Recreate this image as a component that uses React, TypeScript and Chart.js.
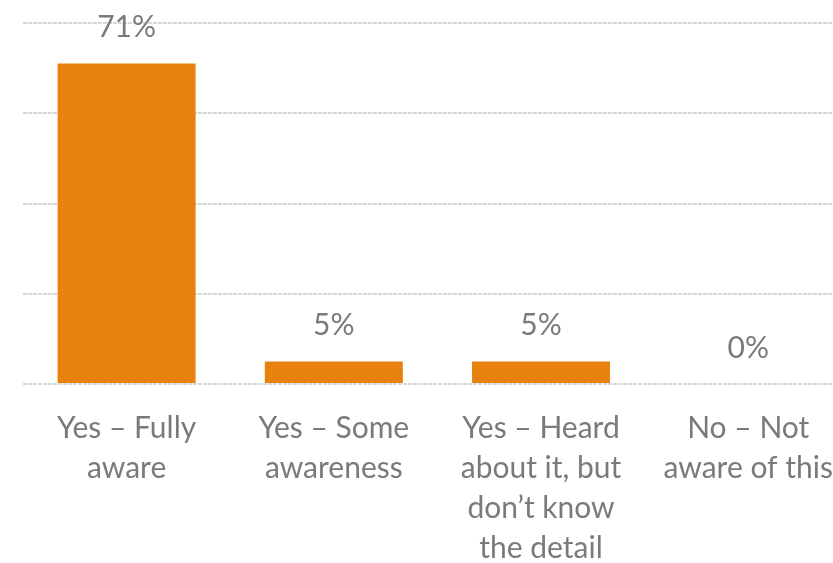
import React, { useEffect, useRef } from "react";
import { Chart, registerables } from "chart.js";

Chart.register(...registerables);

const categories: string[][] = [
  ["Yes – Fully", "aware"],
  ["Yes – Some", "awareness"],
  ["Yes – Heard", "about it, but", "don’t know", "the detail"],
  ["No – Not", "aware of this"],
];
const values: number[] = [71, 5, 5, 0];
const yTicks: number[] = [0, 20, 40, 60, 80];

const FONT = "Lato, 'Open Sans', sans-serif";
const TEXT = "#7a7a7a";

const dataLabels = {
  id: "dataLabels",
  afterDatasetsDraw(chart: any) {
    const ctx = chart.ctx;
    const meta = chart.getDatasetMeta(0);
    ctx.save();
    ctx.font = `30px ${FONT}`;
    ctx.fillStyle = TEXT;
    ctx.textAlign = "center";
    ctx.textBaseline = "middle";
    meta.data.forEach((bar: any, i: number) => {
      ctx.fillText(`${values[i]}%`, bar.x, bar.y - 36);
    });
    ctx.restore();
  },
};

export default function App() {
  const ref = useRef<HTMLCanvasElement>(null);
  useEffect(() => {
    document.body.style.margin = "0";
    document.body.style.overflow = "hidden";
    const chart = new Chart(ref.current!, {
      type: "bar",
      data: {
        labels: categories,
        datasets: [
          {
            data: values,
            backgroundColor: "#e8820e",
            categoryPercentage: 1,
            barPercentage: 0.666,
          },
        ],
      },
      options: {
        responsive: false,
        animation: false,
        layout: { padding: { left: 23, top: 23, right: 0, bottom: 0 } },
        plugins: { legend: { display: false }, tooltip: { enabled: false } },
        scales: {
          x: {
            grid: { display: false, drawTicks: false },
            border: { display: false },
            afterFit: (axis: any) => {
              axis.height = 179;
            },
            ticks: {
              color: TEXT,
              font: { family: FONT, size: 30, lineHeight: 1.34 },
              padding: 24,
              maxRotation: 0,
              autoSkip: false,
            },
          },
          y: {
            min: yTicks[0],
            max: yTicks[yTicks.length - 1],
            afterBuildTicks: (axis: any) => {
              axis.ticks = yTicks.map((v) => ({ value: v }));
            },
            ticks: { display: false },
            border: { display: false, dash: [4, 1] },
            grid: { color: "#d6d6d6", lineWidth: 2, drawTicks: false },
          },
        },
      },
      plugins: [dataLabels],
    });
    return () => chart.destroy();
  }, []);
  return (
    <div
      style={{
        position: "fixed",
        left: 0,
        top: 0,
        width: 833,
        height: 563,
        overflow: "hidden",
        background: "#fff",
      }}
    >
      <canvas ref={ref} width={857} height={563} style={{ display: "block" }} />
    </div>
  );
}
